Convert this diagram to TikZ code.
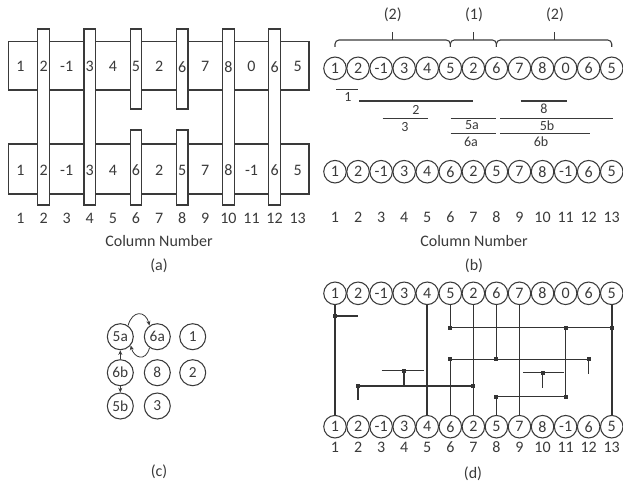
\documentclass[tikz,border=0pt]{standalone}
\usepackage{fontspec}
\setmainfont{Carlito}
\usetikzlibrary{arrows.meta}
\definecolor{ink}{HTML}{3A3A3A}
\begin{document}
\begin{tikzpicture}[x=0.75pt,y=-0.75pt,
  line width=0.8pt, draw=ink, text=ink,
  abox/.style={draw=ink,fill=white,line width=0.8pt},
  num/.style={font=\fontsize{12}{14}\selectfont,inner sep=0pt},
  lbl/.style={font=\fontsize{10.5}{12}\selectfont,inner sep=0pt},
  cnode/.style={circle,draw=ink,line width=0.8pt,minimum size=16.9pt,inner sep=0pt,font=\fontsize{12}{14}\selectfont},
  gnode/.style={circle,draw=ink,line width=0.8pt,minimum size=19.5pt,inner sep=0pt,font=\fontsize{11.5}{14}\selectfont},
  dline/.style={line width=1.15pt,draw=ink!90!black},
  jdot/.style={rectangle,fill=ink!90!black,minimum size=3pt,inner sep=0pt},
  arr/.style={-{Stealth[length=3.5pt,width=3pt]},line width=0.6pt}]
\useasboundingbox (0,0) rectangle (623,485);

% ---------------- Panel (a) ----------------
\draw[abox] (8.7,41.7) rectangle (309,90);
\draw[abox] (8.7,144) rectangle (309,194);
\foreach \c in {2,4,10,12}{
  \pgfmathsetmacro\x{20.5+(\c-1)*23.1}
  \draw[abox] (\x-5.8,29) rectangle (\x+5.8,205);
}
\foreach \c in {6,8}{
  \pgfmathsetmacro\x{20.5+(\c-1)*23.1}
  \draw[abox] (\x-5.8,29) rectangle (\x+5.8,109);
  \draw[abox] (\x-5.8,130) rectangle (\x+5.8,205);
}
\foreach \v [count=\c] in {1,2,-1,3,4,5,2,6,7,8,0,6,5}{
  \pgfmathsetmacro\x{20.5+(\c-1)*23.1}
  \node[num] (at\c) at (\x,66.7) {\v};
}
\foreach \v [count=\c] in {1,2,-1,3,4,6,2,5,7,8,-1,6,5}{
  \pgfmathsetmacro\x{20.5+(\c-1)*23.1}
  \node[num] (ab\c) at (\x,170) {\v};
}
\foreach \c in {1,...,13}{
  \pgfmathsetmacro\x{20.5+(\c-1)*23.1}
  \node[num] (ac\c) at (\x,218) {\c};
}
\node[num] (acn) at (159,241.5) {Column Number};
\node[num] (acap) at (159,266) {(a)};

% ---------------- Panel (b) ----------------
\draw[rounded corners=3] (335,47) -- (335,40) -- (450.3,40) -- (450.3,47);
\draw[rounded corners=3] (450.3,47) -- (450.3,40) -- (496.42,40) -- (496.42,47);
\draw[rounded corners=3] (496.42,47) -- (496.42,40) -- (611.72,40) -- (611.72,47);
\draw (392.6,40) -- (392.6,32);
\draw (473.4,40) -- (473.4,32);
\draw (554.1,40) -- (554.1,32);
\node[num] (br1) at (392.7,15) {(2)};
\node[num] (br2) at (474,15) {(1)};
\node[num] (br3) at (555,15) {(2)};
\foreach \v [count=\c] in {1,2,-1,3,4,5,2,6,7,8,0,6,5}{
  \pgfmathsetmacro\x{335+(\c-1)*23.06}
  \node[cnode] (bt\c) at (\x,68.3) {\v};
}
\foreach \v [count=\c] in {1,2,-1,3,4,6,2,5,7,8,-1,6,5}{
  \pgfmathsetmacro\x{335+(\c-1)*23.06}
  \node[cnode] (bb\c) at (\x,171.7) {\v};
}
\foreach \c in {1,...,13}{
  \pgfmathsetmacro\x{335+(\c-1)*23.06}
  \node[num] (bc\c) at (\x,217.3) {\c};
}
\draw (336,89.3) -- (358.3,89.3);   \node[lbl] (i1) at (348,97) {1};
\draw (359,101) -- (473.4,101);     \node[lbl] (i2) at (416,109.5) {2};
\draw (520.7,101) -- (566.7,101);   \node[lbl] (i8) at (544,109) {8};
\draw (382.7,118.3) -- (427.7,118.3); \node[lbl] (i3) at (405,127) {3};
\draw (450.7,118.3) -- (495.7,118.3); \node[lbl] (i5a) at (472,125.5) {5a};
\draw (500,118.3) -- (612.7,118.3);   \node[lbl] (i5b) at (547,125.5) {5b};
\draw (450.7,133.3) -- (495.7,133.3); \node[lbl] (i6a) at (471,141.5) {6a};
\draw (500,133.3) -- (590,133.3);     \node[lbl] (i6b) at (541,141.5) {6b};
\node[num] (bcn) at (474,241.5) {Column Number};
\node[num] (bcap) at (474,266) {(b)};

% ---------------- Panel (c) ----------------
\node[gnode] (c5a) at (120.3,336.7) {5a};
\node[gnode] (c6a) at (157.3,336.7) {6a};
\node[gnode] (c1)  at (192.7,336.7) {1};
\node[gnode] (c6b) at (120.3,372.7) {6b};
\node[gnode] (c8)  at (157.3,372.7) {8};
\node[gnode] (c2)  at (192.7,372.7) {2};
\node[gnode] (c5b) at (120.3,406) {5b};
\node[gnode] (c3)  at (157.3,406) {3};
% (y axis points down, so upward directions have negative angles here)
\draw[arr] (c5a.55) .. controls +(-75:16) and +(-105:16) .. (c6a.125);
\draw[arr] (c6a.235) .. controls +(105:15) and +(75:13) .. (c5a.-40);
\draw[arr] (c6b) -- (c5a);
\draw[arr] (c6b) -- (c5b);
\node[num] (ccap) at (159,471.7) {(c)};

% ---------------- Panel (d) ----------------
\foreach \v [count=\c] in {1,2,-1,3,4,5,2,6,7,8,0,6,5}{
  \pgfmathsetmacro\x{335+(\c-1)*23.06}
  \node[cnode] (dt\c) at (\x,293.3) {\v};
}
\foreach \v [count=\c] in {1,2,-1,3,4,6,2,5,7,8,-1,6,5}{
  \pgfmathsetmacro\x{335+(\c-1)*23.06}
  \node[cnode] (db\c) at (\x,426.7) {\v};
}
\foreach \c in {1,...,13}{
  \pgfmathsetmacro\x{335+(\c-1)*23.06}
  \node[num] (dc\c) at (\x,447.3) {\c};
}
\node[num] (dcap) at (473,473.3) {(d)};

% junction points
\coordinate (e1)  at (358.06,316);
\node[jdot] (j1)  at (335,316) {};
\node[jdot] (j6t) at (450.3,327.5) {};
\node[jdot] (j11t) at (565.6,327.5) {};
\node[jdot] (j13) at (611.72,327.5) {};
\node[jdot] (j11b) at (565.6,396.7) {};
\node[jdot] (j8b) at (496.42,396.7) {};
\node[jdot] (j6b) at (450.3,359.3) {};
\node[jdot] (j8t) at (496.42,359.3) {};
\node[jdot] (j12) at (588.66,359.3) {};
\coordinate (e12) at (588.66,374);
\node[jdot] (j7)  at (473.36,386) {};
\node[jdot] (j2)  at (358.06,386) {};
\coordinate (e2)  at (358.06,400);
\coordinate (e4l) at (381.7,370.7);
\coordinate (e4r) at (424.3,370.7);
\node[jdot] (j4)  at (404.18,370.7) {};
\coordinate (e4d) at (404.18,386);
\coordinate (e10l) at (523.3,372.7);
\coordinate (e10r) at (564,372.7);
\node[jdot] (j10) at (542.54,372.7) {};
\coordinate (e10d) at (542.54,388.3);

\begin{scope}[dline]
\draw (dt1) -- (db1);
\draw (j1.center) -- (e1);
\draw (dt5) -- (db5);
\draw (dt7) -- (db7);
\draw (dt9) -- (db9);
\draw (dt13) -- (db13);
\draw (dt6) -- (j6t.center) -- (j13.center);
\draw (j11t.center) -- (j11b.center) -- (j8b.center) -- (db8);
\draw (db6) -- (j6b.center) -- (j12.center) -- (e12);
\draw (dt8) -- (j8t.center);
\draw (j7.center) -- (j2.center) -- (e2);
\draw (e4l) -- (e4r);
\draw (j4.center) -- (e4d);
\draw (e10l) -- (e10r);
\draw (j10.center) -- (e10d);
\end{scope}
\end{tikzpicture}
\end{document}
